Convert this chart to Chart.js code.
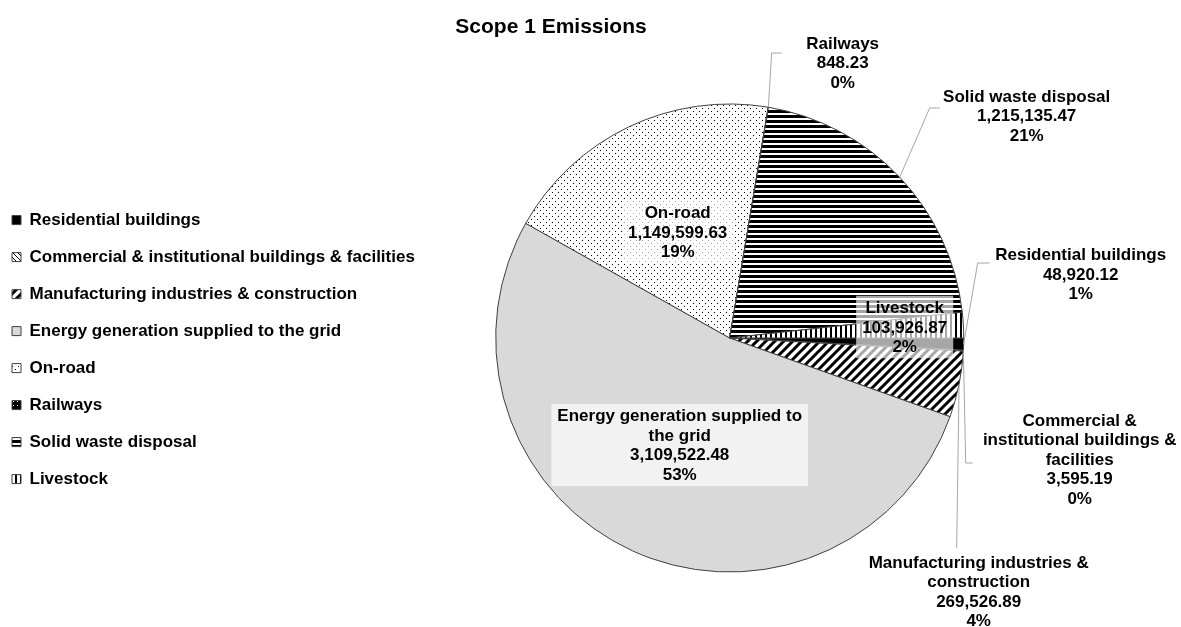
<!DOCTYPE html>
<html>
<head>
<meta charset="utf-8">
<script src="https://cdn.jsdelivr.net/npm/chart.js@4.4.1/dist/chart.umd.min.js"></script>
<style>
html,body{margin:0;padding:0;background:#fff;}
#wrap{width:1181px;height:627px;position:relative;}
</style>
</head>
<body>
<div id="wrap"><canvas id="c" width="1181" height="627"></canvas></div>
<script>
// ---------- DATA ----------
const chartTitle = 'Scope 1 Emissions';
const categories = [
  'Residential buildings',
  'Commercial & institutional buildings & facilities',
  'Manufacturing industries & construction',
  'Energy generation supplied to the grid',
  'On-road',
  'Railways',
  'Solid waste disposal',
  'Livestock'
];
const emissions = [48920.12, 3595.19, 269526.89, 3109522.48, 1149599.63, 848.23, 1215135.47, 103926.87];
const percentLabels = ['1%', '0%', '4%', '53%', '19%', '0%', '21%', '2%'];
// wrapped category text used in the data labels
const labelLines = [
  ['Residential buildings'],
  ['Commercial &', 'institutional buildings &', 'facilities'],
  ['Manufacturing industries &', 'construction'],
  ['Energy generation supplied to', 'the grid'],
  ['On-road'],
  ['Railways'],
  ['Solid waste disposal'],
  ['Livestock']
];

// ---------- STYLE / LAYOUT ----------
const FONT = '"Liberation Sans", Arial, Helvetica, sans-serif';
const fillKinds = ['black', 'diagThin', 'diagWide', 'grey', 'dots', 'confetti', 'hstripes', 'vstripes'];
// label placement relative to pie centre (px at radius 234); leader = [elbowX, elbowY, endX, endY]
const labelLayout = [
  {dx: 351, dy: -63, box: false, leader: [248, -75, 260, -75]},
  {dx: 350, dy: 122, box: false, leader: [236, 125, 243, 125]},
  {dx: 249, dy: 254.5, box: false, leader: [227, 210, 227, 210]},
  {dx: -50, dy: 108, box: true},
  {dx: -52, dy: -105, box: true},
  {dx: 113, dy: -274.5, box: false, leader: [42, -285, 52, -285]},
  {dx: 297, dy: -221.5, box: false, leader: [200, -230, 210, -230]},
  {dx: 175, dy: -10, box: true}
];

function makeFill(kind) {
  const c = document.createElement('canvas');
  const g = c.getContext('2d');
  let s;
  switch (kind) {
    case 'black': return '#000000';
    case 'grey': return '#d9d9d9';
    case 'diagThin':
      s = 5; c.width = c.height = s;
      g.fillStyle = '#fff'; g.fillRect(0, 0, s, s);
      g.strokeStyle = '#000'; g.lineWidth = 1;
      g.beginPath(); g.moveTo(0, 0); g.lineTo(s, s); g.stroke();
      break;
    case 'diagWide':
      s = 9; c.width = c.height = s;
      g.fillStyle = '#fff'; g.fillRect(0, 0, s, s);
      g.strokeStyle = '#000'; g.lineWidth = 3;
      g.beginPath();
      g.moveTo(-1, s + 1); g.lineTo(s + 1, -1);
      g.moveTo(-2, 2); g.lineTo(2, -2);
      g.moveTo(s - 2, s + 2); g.lineTo(s + 2, s - 2);
      g.stroke();
      break;
    case 'dots':
      s = 6; c.width = c.height = s;
      g.fillStyle = '#fff'; g.fillRect(0, 0, s, s);
      g.fillStyle = '#000';
      g.fillRect(0, 0, 1, 1); g.fillRect(3, 3, 1, 1);
      break;
    case 'confetti':
      s = 4; c.width = c.height = s;
      g.fillStyle = '#000'; g.fillRect(0, 0, s, s);
      g.fillStyle = '#fff'; g.fillRect(1, 1, 1, 1);
      break;
    case 'hstripes':
      s = 5; c.width = c.height = s;
      g.fillStyle = '#fff'; g.fillRect(0, 0, s, s);
      g.fillStyle = '#000'; g.fillRect(0, 0, s, 3);
      break;
    case 'vstripes':
      s = 5; c.width = c.height = s;
      g.fillStyle = '#fff'; g.fillRect(0, 0, s, s);
      g.fillStyle = '#000'; g.fillRect(0, 0, 2, s);
      break;
  }
  return g.createPattern(c, 'repeat');
}

function fmtValue(v) {
  return v.toLocaleString('en-US', {minimumFractionDigits: 2, maximumFractionDigits: 2});
}

const labelPlugin = {
  id: 'sliceLabels',
  afterDraw(chart) {
    const ctx = chart.ctx;
    const meta = chart.getDatasetMeta(0);
    if (!meta.data.length) return;
    const cx = meta.data[0].x, cy = meta.data[0].y, R = meta.data[0].outerRadius;
    const k = R / 234;
    const lh = 19.5;
    ctx.save();
    // title
    ctx.font = 'bold 21px ' + FONT;
    ctx.fillStyle = '#000';
    ctx.textAlign = 'center';
    ctx.textBaseline = 'alphabetic';
    ctx.fillText(chartTitle, 551, 33);

    // leader lines
    ctx.strokeStyle = '#a6a6a6';
    ctx.lineWidth = 1;
    labelLayout.forEach((L, i) => {
      if (!L.leader) return;
      const arc = meta.data[i];
      const mid = (arc.startAngle + arc.endAngle) / 2;
      ctx.beginPath();
      ctx.moveTo(cx + Math.cos(mid) * R, cy + Math.sin(mid) * R);
      ctx.lineTo(cx + L.leader[0] * k, cy + L.leader[1] * k);
      ctx.lineTo(cx + L.leader[2] * k, cy + L.leader[3] * k);
      ctx.stroke();
    });

    ctx.font = 'bold 17px ' + FONT;
    labelLayout.forEach((L, i) => {
      const lines = labelLines[i].concat([fmtValue(emissions[i]), percentLabels[i]]);
      const x = cx + L.dx * k, y = cy + L.dy * k;
      const h = lines.length * lh;
      if (L.box) {
        let w = 0;
        lines.forEach(t => { w = Math.max(w, ctx.measureText(t).width); });
        ctx.fillStyle = 'rgba(255,255,255,0.65)';
        ctx.fillRect(x - w / 2 - 6, y - h / 2 - 3, w + 12, h + 4);
      }
      ctx.fillStyle = '#000';
      ctx.textAlign = 'center';
      ctx.textBaseline = 'middle';
      lines.forEach((t, j) => {
        ctx.fillText(t, x, y - h / 2 + lh * (j + 0.5));
      });
    });
    ctx.restore();
  }
};

const chart = new Chart(document.getElementById('c'), {
  type: 'pie',
  data: {
    labels: categories,
    datasets: [{
      data: emissions,
      backgroundColor: fillKinds.map(makeFill),
      borderColor: '#404040',
      borderWidth: 1
    }]
  },
  options: {
    responsive: false,
    animation: false,
    events: [],
    rotation: 90,
    layout: {padding: {left: -8, right: 146.5, top: 103.5, bottom: 54.5}},
    plugins: {
      title: {display: false, text: chartTitle},
      tooltip: {enabled: false},
      legend: {
        position: 'left',
        align: 'center',
        title: {display: true, text: '', padding: {top: 22, bottom: 0}, font: {size: 1}},
        labels: {
          boxWidth: 9,
          boxHeight: 9,
          padding: 20,
          color: '#000',
          font: {family: FONT, size: 17, weight: 'bold'}
        }
      }
    }
  },
  plugins: [labelPlugin]
});
</script>
</body>
</html>
